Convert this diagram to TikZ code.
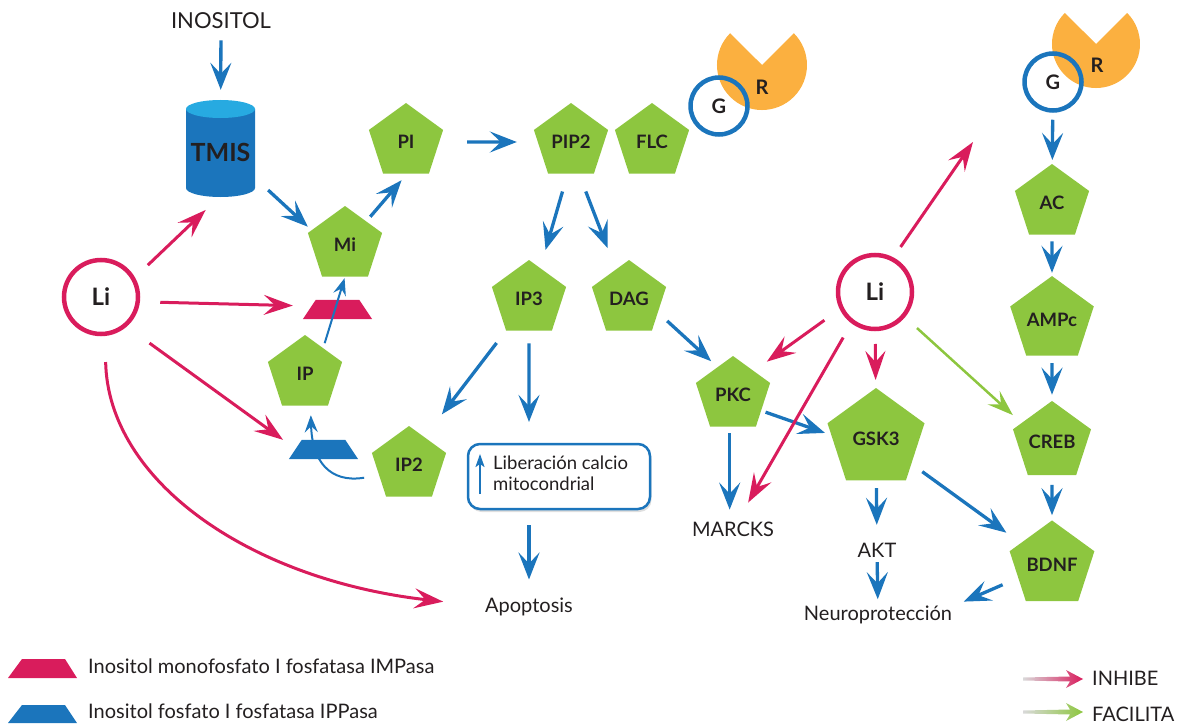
\documentclass[tikz,border=0pt]{standalone}
\usepackage{fontspec}
\setmainfont{Lato}
\usetikzlibrary{arrows.meta,shapes.geometric,shadows}
\definecolor{cblue}{HTML}{1B75BC}
\definecolor{ccyan}{HTML}{27AAE1}
\definecolor{cred}{HTML}{D91C5C}
\definecolor{cgreen}{HTML}{8DC63F}
\definecolor{corange}{HTML}{FBB040}
\definecolor{ctext}{HTML}{231F20}
\newcommand\setfs[1]{\fontsize{#1}{#1}\selectfont}
\begin{document}
\begin{tikzpicture}[x=1pt,y=-1pt,
  lab/.style={inner sep=0pt, text=ctext, anchor=base},
  pent/.style={regular polygon, regular polygon sides=5, minimum size=78pt, inner sep=0pt, fill=cgreen, text=ctext, font=\setfs{18.5}\bfseries},
  licirc/.style={circle, draw=cred, line width=4.5pt, minimum size=74pt, inner sep=0pt, text=ctext, font=\setfs{24}\bfseries},
  gcirc/.style={circle, draw=cblue, line width=4.5pt, minimum size=57pt, inner sep=0pt, text=ctext, font=\setfs{20}\bfseries},
  rlab/.style={inner sep=0pt, text=ctext, font=\setfs{20}\bfseries},
  trapbox/.style={inner sep=0pt, minimum width=69pt, minimum height=19pt},
  libox/.style={rectangle, rounded corners=12pt, draw=cblue, line width=2.5pt, fill=white, minimum width=182pt, minimum height=65pt, drop shadow={opacity=0.25, shadow xshift=1.5pt, shadow yshift=-3pt}},
  barr/.style={draw=cblue, line width=3.3pt, -{Stealth[length=27pt,width=21pt,inset=11pt]}},
  tarr/.style={draw=cblue, line width=2pt, -{Stealth[length=17pt,width=13pt,inset=6pt]}},
  rarr/.style={draw=cred, line width=3pt, -{Stealth[length=29pt,width=20pt,inset=11pt]}},
  garr/.style={draw=cgreen, line width=2.5pt, -{Stealth[length=26pt,width=18pt,inset=10pt]}}
]
\useasboundingbox (0,0) rectangle (1195,725);

% receptors
\fill[corange] (762,65) -- ++(31.8,-31.8) arc[start angle=-45,end angle=225,radius=45] -- cycle;
\fill[corange] (1096,44) -- ++(31.1,-31.1) arc[start angle=-45,end angle=225,radius=44] -- cycle;
\node[gcirc] (Gl) at (719,106) {G};
\node[gcirc] (Gr) at (1053,82) {G};
\node[rlab] (Rl) at (762,87) {R};
\node[rlab] (Rr) at (1097,65) {R};

% TMIS cylinder
\fill[cblue] (186,109) -- (186,188) arc[start angle=180,end angle=0,x radius=34.5,y radius=9] -- (255,109) -- cycle;
\fill[ccyan] (220.5,109) ellipse[x radius=34.5,y radius=9];
\node[inner sep=0pt, minimum width=69pt, minimum height=97pt, text=ctext, font=\setfs{25}\bfseries] (TMIS) at (220.5,152) {TMIS};
\node[lab, font=\setfs{22}] (INOS) at (221,29) {INOSITOL};

% pentagons
\node[pent] (Mi) at (345,245) {Mi};
\node[pent] (PI) at (406,142) {PI};
\node[pent] (PIP2) at (571,142) {PIP2};
\node[pent] (FLC) at (652,142) {FLC};
\node[pent] (IP3) at (529,299) {IP3};
\node[pent] (DAG) at (629,299) {DAG};
\node[pent] (IP) at (305,374) {IP};
\node[pent] (IP2) at (409,465) {IP2};
\node[pent] (PKC) at (733,395) {PKC};
\node[pent, minimum size=102pt] (GSK3) at (876,439) {GSK3};
\node[pent] (AC) at (1052,203) {AC};
\node[pent] (AMPc) at (1052,320) {AMPc};
\node[pent] (CREB) at (1052,442) {CREB};
\node[pent] (BDNF) at (1052,565) {BDNF};

% lithium
\node[licirc] (LiL) at (101,297) {Li};
\node[licirc] (LiR) at (875,292) {Li};

% enzymes
\node[trapbox] (IMP) at (337.5,309.5) {};
\fill[cred] (IMP.south west) -- (IMP.south east) -- ([xshift=-13pt]IMP.north east) -- ([xshift=13pt]IMP.north west) -- cycle;
\node[trapbox] (IPP) at (323.5,449.5) {};
\fill[cblue] (IPP.south west) -- (IPP.south east) -- ([xshift=-13pt]IPP.north east) -- ([xshift=13pt]IPP.north west) -- cycle;

% calcium box
\node[libox] (LIB) at (559,476.5) {};
\node[anchor=north west, align=left, inner sep=0pt, text=ctext, font=\fontsize{18.5}{21}\selectfont] (LIBT) at (493,456) {Liberación calcio\\mitocondrial};
\draw[cblue, line width=2pt, -{Stealth[length=13pt,width=9pt,inset=3pt]}] (480,494) -- (480,454);

% text labels
\node[lab, font=\setfs{20}] (APOP) at (529,612) {Apoptosis};
\node[lab, font=\setfs{20}] (MARCKS) at (733,536) {MARCKS};
\node[lab, font=\setfs{20}] (AKT) at (877,557) {AKT};
\node[lab, font=\setfs{20}] (NEURO) at (878,620) {Neuroprotección};

% blue connectors
\draw[barr, shorten <=11pt, shorten >=13.5pt] (INOS) -- (TMIS);
\draw[barr, shorten <=17.6pt, shorten >=5pt] (TMIS.-37.3) -- (Mi.156);
\draw[barr, shorten <=6pt, shorten >=8.5pt] (Mi.48.2) -- (PI.-88.6);
\draw[barr, shorten <=27.8pt, shorten >=20.8pt] (PI) -- (PIP2);
\draw[barr, shorten <=18.5pt, shorten >=18.8pt] (PIP2.-96.8) -- (IP3.70.9);
\draw[barr, shorten <=19pt, shorten >=22.8pt] (PIP2.-76.5) -- (DAG.114.7);
\draw[barr, shorten <=15.4pt, shorten >=28.6pt] (IP3.234) -- (IP2.61.3);
\draw[barr, shorten <=12.5pt, shorten >=20.8pt] (IP3) -- (IP3 |- LIB.north);
\draw[barr, shorten <=15pt, shorten >=17.7pt] (LIB.south -| APOP) -- (APOP);
\draw[barr, shorten <=12.5pt, shorten >=8.6pt] (DAG.-25.4) -- (PKC.119.7);
\draw[barr, shorten <=6.3pt, shorten >=11.7pt] (PKC.-96) -- (PKC.-96 |- MARCKS.north);
\draw[barr, shorten <=4.5pt, shorten >=6.5pt] (PKC.-29.4) -- (GSK3.175.5);
\draw[barr, shorten <=7.7pt, shorten >=17.7pt] (GSK3) -- (AKT);
\draw[barr, shorten <=5pt, shorten >=6pt] (AKT) -- (NEURO);
\draw[barr, shorten <=13.3pt, shorten >=17.6pt] (GSK3.-35.7) -- (BDNF.145.4);
\draw[barr, shorten <=16.9pt, shorten >=12.6pt] (BDNF.201.8) -- (NEURO.6);
\draw[barr, shorten <=7pt, shorten >=4pt] (Gr) -- (AC);
\draw[barr, shorten <=6.5pt, shorten >=3pt] (AC) -- (AMPc);
\draw[barr, shorten <=7.5pt, shorten >=6pt] (AMPc) -- (CREB);
\draw[barr, shorten <=9.5pt, shorten >=5pt] (CREB) -- (BDNF);
\draw[tarr, shorten <=5pt, shorten >=1.5pt] (IP.55) -- (Mi.-90);
\draw[tarr, shorten <=15pt, shorten >=9.5pt] (IP2.199) .. controls +(-50,8) and +(1.4,54.5) .. (IP.-80);

% red connectors
\draw[rarr, shorten <=17.7pt, shorten >=13.4pt] (LiL.30.6) -- (TMIS.-96.1);
\draw[rarr, shorten <=20.3pt, shorten >=10pt] (LiL.-7.7) -- (IMP.174.2);
\draw[rarr, shorten <=28.1pt, shorten >=7.1pt] (LiL.-49.2) -- (IPP.171.1);
\draw[rarr, shorten <=26pt, shorten >=42pt] (LiL.-84) .. controls +(3,144) and +(-237,-27) .. (APOP.west);
\draw[rarr, shorten <=18.9pt, shorten >=15.9pt] (LiR.206.6) -- (PKC.49.3);
\draw[rarr, shorten <=16.4pt, shorten >=21.6pt] (LiR.-127.7) -- (MARCKS.60);
\draw[rarr, shorten <=12.75pt, shorten >=8pt] (LiR) -- (GSK3);
\coordinate (Lup) at (973,142);
\draw[rarr, shorten <=12.6pt] (LiR.62.4) -- (Lup);

% green connector
\draw[garr, shorten <=16.1pt, shorten >=11.6pt] (LiR.-40.6) -- (CREB.148.4);

% legend
\fill[cred] (8,678) -- (77,678) -- (65,659) -- (22,659) -- cycle;
\fill[cblue] (8,723) -- (77,723) -- (65,705) -- (22,705) -- cycle;
\node[lab, anchor=base west, font=\setfs{20}] (L1) at (88,673) {Inositol monofosfato I fosfatasa IMPasa};
\node[lab, anchor=base west, font=\setfs{20}] (L2) at (88,718) {Inositol fosfato I fosfatasa IPPasa};
\shade[left color=black!15, right color=cred] (1023,677.5) -- (1070,676.5) -- (1066,670) -- (1083,679) -- (1066,688) -- (1070,681.5) -- (1023,680.5) -- cycle;
\shade[left color=black!15, right color=cgreen] (1023,710.5) -- (1070,709.5) -- (1066,703) -- (1083,712) -- (1066,721) -- (1070,714.5) -- (1023,713.5) -- cycle;
\node[lab, anchor=base west, font=\setfs{20}] (INH) at (1092,685) {INHIBE};
\node[lab, anchor=base west, font=\setfs{20}] (FAC) at (1092,721) {FACILITA};
\end{tikzpicture}
\end{document}
